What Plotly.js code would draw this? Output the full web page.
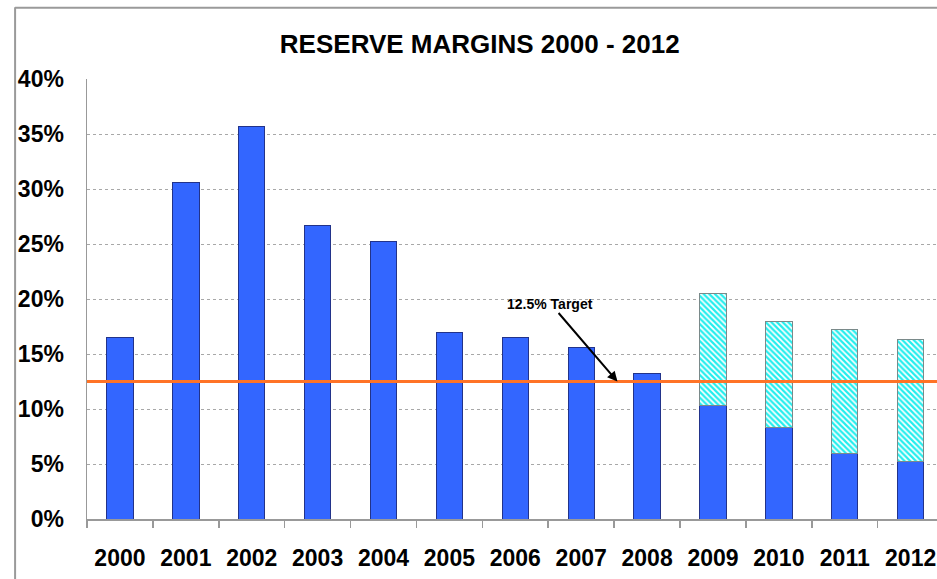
<!DOCTYPE html>
<html>
<head>
<meta charset="utf-8">
<script src="https://cdn.plot.ly/plotly-3.0.1.min.js"></script>
<style>
  html, body { margin: 0; padding: 0; background: #fff; }
  #chart { width: 937px; height: 579px; }
</style>
</head>
<body>
<div id="chart"></div>
<script>
const years = ['2000','2001','2002','2003','2004','2005','2006','2007','2008','2009','2010','2011','2012'];
const actualMargin = [0.165, 0.306, 0.357, 0.267, 0.252, 0.170, 0.165, 0.156, 0.132, 0.103, 0.083, 0.060, 0.052];
const projectedTotal = [null, null, null, null, null, null, null, null, null, 0.205, 0.180, 0.172, 0.163];
const projectedAdd = projectedTotal.map((t, i) => t === null ? null : +(t - actualMargin[i]).toFixed(3));
const targetMargin = 0.125;
const yTicks = [0, 0.05, 0.10, 0.15, 0.20, 0.25, 0.30, 0.35, 0.40];
const yTickText = ['0%','5%','10%','15%','20%','25%','30%','35%','40%'];

const FONT = 'Liberation Sans, Arial, sans-serif';

const traces = [
  {
    type: 'bar', x: years, y: actualMargin, width: 0.4,
    marker: { color: '#3366FF', line: { color: '#22338A', width: 1 } },
    hoverinfo: 'skip'
  },
  {
    type: 'bar', x: years, y: projectedAdd, width: 0.4,
    marker: {
      color: '#FFFFFF',
      line: { color: '#7A8A8A', width: 1 },
      pattern: { shape: '\\', fgcolor: '#22EEEE', bgcolor: '#FFFFFF', size: 4, solidity: 0.55 }
    },
    hoverinfo: 'skip'
  }
];

const layout = {
  width: 937, height: 579,
  margin: { l: 87, r: 0, t: 79, b: 60 },
  paper_bgcolor: '#FFFFFF', plot_bgcolor: '#FFFFFF',
  barmode: 'stack',
  showlegend: false,
  title: {
    text: '<b>RESERVE MARGINS 2000 - 2012</b>',
    font: { family: FONT, size: 26, color: '#000' },
    x: 0.512, xanchor: 'center', y: 0.925, yanchor: 'middle'
  },
  xaxis: {
    type: 'category',
    range: [-0.5, 12.4],
    showgrid: false,
    showline: true, linecolor: '#999999', linewidth: 1.5,
    ticks: 'outside', tickson: 'boundaries', ticklen: 7, tickcolor: '#999999', tickwidth: 1.5,
    ticklabelstandoff: 18,
    tickfont: { family: FONT, size: 23, color: '#000', weight: 'bold' },
    fixedrange: true
  },
  yaxis: {
    range: [0, 0.40],
    tickvals: yTicks, ticktext: yTickText,
    showgrid: true, gridcolor: '#A8A8A8', griddash: 'dot', gridwidth: 1,
    showline: true, linecolor: '#999999', linewidth: 1.5,
    ticks: '', ticklabelstandoff: 17,
    zeroline: false,
    tickfont: { family: FONT, size: 23, color: '#000', weight: 'bold' },
    fixedrange: true
  },
  shapes: [
    { type: 'line', xref: 'paper', yref: 'y', x0: 0, x1: 1, y0: targetMargin, y1: targetMargin,
      line: { color: '#FF7326', width: 3 } },
    { type: 'line', xref: 'paper', yref: 'paper', x0: -0.0846, x1: -0.0846, y0: 1.163, y1: -0.14,
      line: { color: '#9A9A9A', width: 2 } },
    { type: 'line', xref: 'paper', yref: 'paper', x0: -0.0846, x1: 1.01, y0: 1.162, y1: 1.162,
      line: { color: '#9A9A9A', width: 2 } }
  ],
  annotations: [
    {
      x: 7.55, y: targetMargin, xref: 'x', yref: 'y',
      text: '<b>12.5% Target</b>',
      font: { family: FONT, size: 14, color: '#000' },
      showarrow: true, arrowhead: 2, arrowsize: 1, arrowwidth: 2, arrowcolor: '#000',
      ax: -67, ay: -78, standoff: 0
    }
  ]
};

Plotly.newPlot('chart', traces, layout, { staticPlot: true, displayModeBar: false });
</script>
</body>
</html>
